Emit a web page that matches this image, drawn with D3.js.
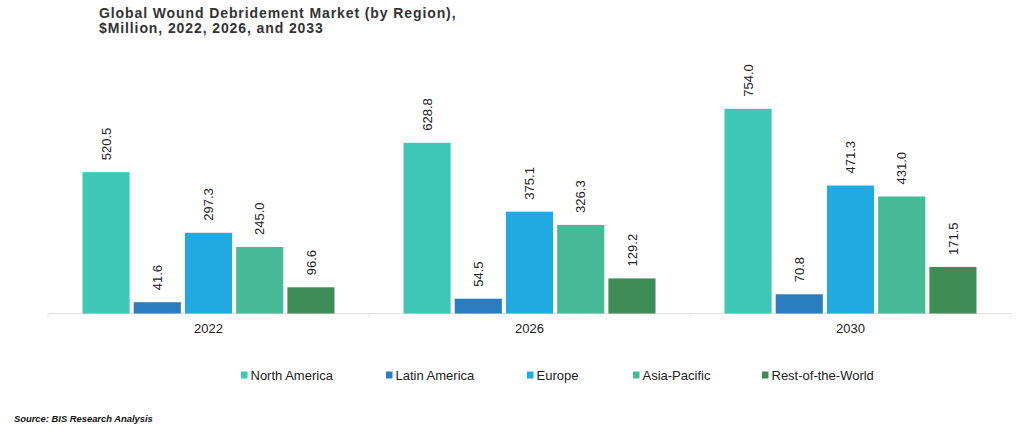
<!DOCTYPE html>
<html><head><meta charset="utf-8">
<script src="https://cdn.jsdelivr.net/npm/d3@7"></script>
<style>
body{margin:0;background:#fff;}
svg{display:block;font-family:"Liberation Sans",Arial,sans-serif;}
</style></head>
<body><svg id="c" width="1032" height="434"></svg>
<script>
const categories = ["2022", "2026", "2030"];
const seriesNames = ["North America", "Latin America", "Europe", "Asia-Pacific", "Rest-of-the-World"];
const northAmerica = [520.5, 628.8, 754.0];
const latinAmerica = [41.6, 54.5, 70.8];
const europe = [297.3, 375.1, 471.3];
const asiaPacific = [245.0, 326.3, 431.0];
const restOfWorld = [96.6, 129.2, 171.5];
const colors = ["#3ec6b6", "#2b7dc0", "#21a9e1", "#46b996", "#3f8c56"];
const titleLines = ["Global Wound Debridement Market (by Region),", "$Million, 2022, 2026, and 2033"];
const sourceText = "Source: BIS Research Analysis";

const seriesValues = [northAmerica, latinAmerica, europe, asiaPacific, restOfWorld];
const svg = d3.select("#c");

const baseY = 313.5;
const x0 = d3.scaleBand().domain(categories).range([48, 1011]).paddingInner(0).paddingOuter(0);
const x1 = d3.scaleBand().domain(seriesNames).range([34.5, x0.bandwidth() - 34.5]).paddingInner(0.08).paddingOuter(0);
const y = d3.scaleLinear().domain([0, 800]).range([baseY, baseY - 217.2]);

// title
const t = svg.append("text").attr("x", 99).attr("y", 17.5)
  .attr("fill", "#333").attr("font-weight", "bold").attr("font-size", 14).attr("letter-spacing", 0.9);
titleLines.forEach((l, i) => t.append("tspan").attr("x", 99).attr("dy", i === 0 ? 0 : 15).text(l));

// axis
const axis = d3.axisBottom(x0).tickSize(0).tickPadding(0);
const ax = svg.append("g").attr("transform", `translate(0,${baseY})`).call(axis);
ax.select(".domain").attr("stroke", "#e0e0e0").attr("d", `M48,0H1011`);
ax.selectAll(".tick text").attr("font-size", 13).attr("fill", "#222").attr("dy", "0").attr("y", 19.5)
  .attr("font-family", "Liberation Sans, Arial, sans-serif");
// boundary ticks
const bounds = categories.map(c => x0(c)).concat([x0(categories[categories.length - 1]) + x0.bandwidth()]);
svg.append("g").selectAll("line").data(bounds).join("line")
  .attr("x1", d => d).attr("x2", d => d).attr("y1", baseY).attr("y2", baseY + 4)
  .attr("stroke", "#e0e0e0");

// bars
const groups = svg.append("g").selectAll("g").data(categories).join("g")
  .attr("transform", c => `translate(${x0(c)},0)`);
groups.each(function (c, ci) {
  const g = d3.select(this);
  const d = seriesNames.map((s, si) => ({ s, si, v: seriesValues[si][ci] }));
  g.selectAll("rect").data(d).join("rect")
    .attr("x", e => x1(e.s)).attr("width", x1.bandwidth())
    .attr("y", e => y(e.v)).attr("height", e => baseY - y(e.v))
    .attr("fill", e => colors[e.si]);
  g.selectAll("text.v").data(d).join("text").attr("class", "v")
    .attr("transform", e => `translate(${x1(e.s) + x1.bandwidth() / 2},${y(e.v) - 12}) rotate(-90)`)
    .attr("dy", "0.35em").attr("font-size", 13).attr("fill", "#222")
    .text(e => e.v.toFixed(1));
});

// legend
const legX = [241, 386, 527, 633, 762];
const lg = svg.append("g").selectAll("g").data(seriesNames).join("g")
  .attr("transform", (s, i) => `translate(${legX[i]},375)`);
lg.append("rect").attr("x", 0).attr("y", -3.5).attr("width", 6.5).attr("height", 7).attr("fill", (s, i) => colors[i]);
lg.append("text").attr("x", 9.5).attr("dy", "0.35em").attr("font-size", 13).attr("fill", "#222").text(s => s);

// source
svg.append("text").attr("x", 14).attr("y", 421.5).attr("font-size", 9.4).attr("font-weight", "bold")
  .attr("font-style", "italic").attr("fill", "#111").text(sourceText);
</script></body></html>
